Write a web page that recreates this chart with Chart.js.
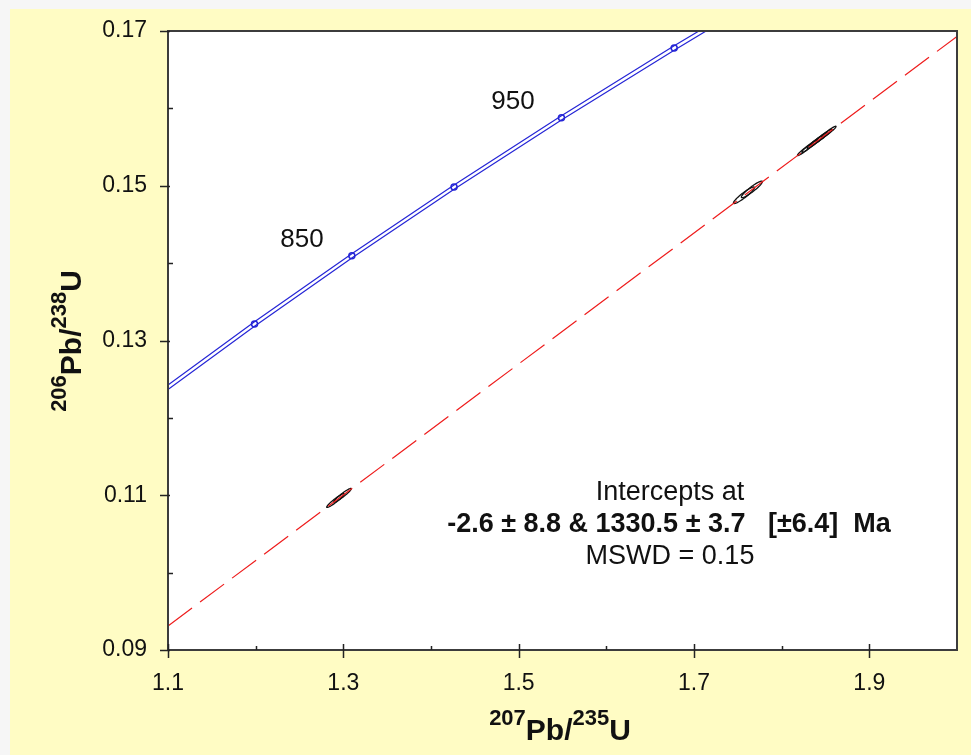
<!DOCTYPE html>
<html>
<head>
<meta charset="utf-8">
<script src="https://cdn.jsdelivr.net/npm/chart.js@4.4.0/dist/chart.umd.min.js"></script>
<style>
  html, body { margin: 0; padding: 0; background: #f6f6f6; }
  #wrap { width: 971px; height: 755px; }
</style>
</head>
<body>
<div id="wrap"><canvas id="concordia" width="971" height="755"></canvas></div>
<script>
// Axis ticks
const xTicks = [1.1, 1.3, 1.5, 1.7, 1.9];
const xTickLabels = ["1.1", "1.3", "1.5", "1.7", "1.9"];
const xMinorTicks = [1.2, 1.4, 1.6, 1.8];
const yTicks = [0.09, 0.11, 0.13, 0.15, 0.17];
const yTickLabels = ["0.09", "0.11", "0.13", "0.15", "0.17"];
const yMinorTicks = [0.10, 0.12, 0.14, 0.16];

// Concordia curve (Ma) with its two envelope lines
const concAges = [750, 800, 850, 900, 950, 1000, 1020];
const concX = [1.0930, 1.1987, 1.3097, 1.4263, 1.5488, 1.6774, 1.7307];
const concYUpper = [0.12366, 0.13241, 0.14122, 0.15011, 0.15906, 0.16808, 0.17171];
const concYLower = [0.12310, 0.13185, 0.14066, 0.14955, 0.15850, 0.16752, 0.17115];

// Age markers on the concordia (800 ... 1000 Ma)
const markerX = [1.1987, 1.3097, 1.4263, 1.5488, 1.6774];
const markerY = [0.13213, 0.14094, 0.14983, 0.15878, 0.16780];

// Age labels written next to the curve
const ageLabels = ["850", "950"];
const ageLabelX = [1.2528, 1.4935];
const ageLabelY = [0.14299, 0.16082];

// Discordia (regression line) across the plot
const discX = [1.1, 2.0];
const discY = [0.0931, 0.1693];

// Analyses: centre, 2s errors and error correlation
const spotX = [1.291, 1.299, 1.757, 1.766, 1.826, 1.832, 1.838, 1.843, 1.848, 1.854];
const spotY = [0.10931, 0.10999, 0.14877, 0.14953, 0.15461, 0.15512, 0.15563, 0.15605, 0.15647, 0.15698];
const spotXErr = [0.010, 0.010, 0.012, 0.012, 0.008, 0.009, 0.009, 0.009, 0.009, 0.008];
const spotYErr = [0.00089, 0.00089, 0.00107, 0.00107, 0.00071, 0.00080, 0.00080, 0.00080, 0.00080, 0.00071];
const spotRho = [0.95, 0.95, 0.93, 0.93, 0.95, 0.95, 0.95, 0.95, 0.95, 0.95];

const blue = "#2525d6";
const sans = "'Liberation Sans', Arial, sans-serif";

function pts(xs, ys) {
  return xs.map((x, i) => ({ x: x, y: ys[i] }));
}

// Mixed-size text for isotope ratios, centred on cx
function drawRatio(ctx, parts, cx, baseY) {
  let total = 0;
  const widths = parts.map(p => {
    ctx.font = p[1] ? "bold 22px " + sans : "bold 30px " + sans;
    const w = ctx.measureText(p[0]).width;
    total += w;
    return w;
  });
  let x = cx - total / 2;
  ctx.textAlign = "left";
  ctx.textBaseline = "alphabetic";
  parts.forEach((p, i) => {
    ctx.font = p[1] ? "bold 22px " + sans : "bold 30px " + sans;
    ctx.fillText(p[0], x, p[1] ? baseY - 15 : baseY);
    x += widths[i];
  });
}

const decorPlugin = {
  id: "decor",
  beforeDraw(chart) {
    const ctx = chart.ctx, a = chart.chartArea;
    ctx.save();
    ctx.fillStyle = "#f6f6f6";
    ctx.fillRect(0, 0, chart.width, chart.height);
    ctx.fillStyle = "#fffcc4";
    ctx.fillRect(10, 9, chart.width - 10, chart.height - 9);
    ctx.fillStyle = "#ffffff";
    ctx.fillRect(a.left, a.top, a.right - a.left, a.bottom - a.top);
    ctx.restore();
  },
  beforeDatasetsDraw(chart) {
    // error ellipses
    const ctx = chart.ctx, xs = chart.scales.x, ys = chart.scales.y, a = chart.chartArea;
    ctx.save();
    ctx.beginPath();
    ctx.rect(a.left, a.top, a.right - a.left, a.bottom - a.top);
    ctx.clip();
    ctx.strokeStyle = "#111";
    ctx.lineWidth = 1.3;
    spotX.forEach((cx, i) => {
      const ex = spotXErr[i], ey = spotYErr[i], r = spotRho[i];
      ctx.beginPath();
      for (let k = 0; k <= 72; k++) {
        const th = k / 72 * 2 * Math.PI;
        const vx = cx + ex * Math.cos(th);
        const vy = spotY[i] + ey * (r * Math.cos(th) + Math.sqrt(1 - r * r) * Math.sin(th));
        const px = xs.getPixelForValue(vx), py = ys.getPixelForValue(vy);
        if (k === 0) ctx.moveTo(px, py); else ctx.lineTo(px, py);
      }
      ctx.closePath();
      ctx.stroke();
    });
    ctx.restore();
  },
  afterDatasetsDraw(chart) {
    const ctx = chart.ctx, xs = chart.scales.x, ys = chart.scales.y, a = chart.chartArea;
    ctx.save();

    // frame
    ctx.strokeStyle = "#3c3c3c";
    ctx.lineWidth = 2;
    ctx.strokeRect(a.left, a.top, a.right - a.left, a.bottom - a.top);

    // tick marks
    ctx.strokeStyle = "#222";
    ctx.lineWidth = 1.5;
    ctx.beginPath();
    xTicks.forEach(v => {
      const px = Math.round(xs.getPixelForValue(v)) + 0.5;
      ctx.moveTo(px, a.bottom - 6); ctx.lineTo(px, a.bottom + 8);
    });
    xMinorTicks.forEach(v => {
      const px = Math.round(xs.getPixelForValue(v)) + 0.5;
      ctx.moveTo(px, a.bottom - 4); ctx.lineTo(px, a.bottom);
    });
    yTicks.forEach(v => {
      const py = Math.round(ys.getPixelForValue(v)) + 0.5;
      ctx.moveTo(a.left - 8, py); ctx.lineTo(a.left + 2, py);
    });
    yMinorTicks.forEach(v => {
      const py = Math.round(ys.getPixelForValue(v)) + 0.5;
      ctx.moveTo(a.left, py); ctx.lineTo(a.left + 5, py);
    });
    ctx.stroke();

    ctx.fillStyle = "#111";

    // age labels
    ctx.font = "26px " + sans;
    ctx.textAlign = "center";
    ctx.textBaseline = "middle";
    ageLabels.forEach((t, i) => {
      ctx.fillText(t, xs.getPixelForValue(ageLabelX[i]), ys.getPixelForValue(ageLabelY[i]));
    });

    // intercept annotation
    ctx.font = "27px " + sans;
    ctx.fillText("Intercepts at", 670, 493);
    ctx.font = "bold 27px " + sans;
    ctx.fillText("-2.6 \u00b1 8.8 & 1330.5 \u00b1 3.7   [\u00b16.4]  Ma", 669, 525);
    ctx.font = "27px " + sans;
    ctx.fillText("MSWD = 0.15", 670, 557);

    // axis titles
    drawRatio(ctx, [["207", true], ["Pb/", false], ["235", true], ["U", false]], 560, 740);
    ctx.save();
    ctx.translate(81, 341);
    ctx.rotate(-Math.PI / 2);
    drawRatio(ctx, [["206", true], ["Pb/", false], ["238", true], ["U", false]], 0, 0);
    ctx.restore();

    ctx.restore();
  }
};

new Chart(document.getElementById("concordia"), {
  type: "scatter",
  data: {
    datasets: [
      {
        label: "Markers",
        data: pts(markerX, markerY),
        showLine: false,
        pointRadius: 3,
        pointBorderWidth: 1.5,
        pointBorderColor: blue,
        pointBackgroundColor: "rgba(0,0,0,0)"
      },
      {
        label: "Concordia upper",
        data: pts(concX, concYUpper),
        showLine: true,
        borderColor: blue,
        borderWidth: 1.2,
        pointRadius: 0
      },
      {
        label: "Concordia lower",
        data: pts(concX, concYLower),
        showLine: true,
        borderColor: blue,
        borderWidth: 1.2,
        pointRadius: 0
      },
      {
        label: "Discordia",
        data: pts(discX, discY),
        showLine: true,
        borderColor: "#ee1c1c",
        borderWidth: 1.2,
        borderDash: [30, 10],
        pointRadius: 0
      }
    ]
  },
  options: {
    responsive: false,
    animation: false,
    devicePixelRatio: 1,
    layout: { padding: { left: 0, top: 31, right: 14, bottom: 0 } },
    plugins: {
      legend: { display: false },
      tooltip: { enabled: false }
    },
    scales: {
      x: {
        type: "linear",
        min: 1.1,
        max: 2.0,
        afterBuildTicks: s => { s.ticks = xTicks.map(v => ({ value: v })); },
        afterFit: s => { s.height = 105; s.paddingLeft = 0; s.paddingRight = 0; },
        grid: { display: false, drawTicks: false, tickLength: 0 },
        border: { display: false },
        ticks: {
          autoSkip: false,
          maxRotation: 0,
          padding: 19.5,
          color: "#111",
          font: { family: sans, size: 23 },
          callback: (v, i) => xTickLabels[i]
        }
      },
      y: {
        type: "linear",
        min: 0.09,
        max: 0.17,
        afterBuildTicks: s => { s.ticks = yTicks.map(v => ({ value: v })); },
        afterFit: s => { s.width = 168; s.paddingTop = 0; s.paddingBottom = 0; },
        grid: { display: false, drawTicks: false, tickLength: 0 },
        border: { display: false },
        ticks: {
          autoSkip: false,
          padding: 21,
          color: "#111",
          font: { family: sans, size: 23 },
          callback: (v, i) => yTickLabels[i]
        }
      }
    }
  },
  plugins: [decorPlugin]
});
</script>
</body>
</html>
